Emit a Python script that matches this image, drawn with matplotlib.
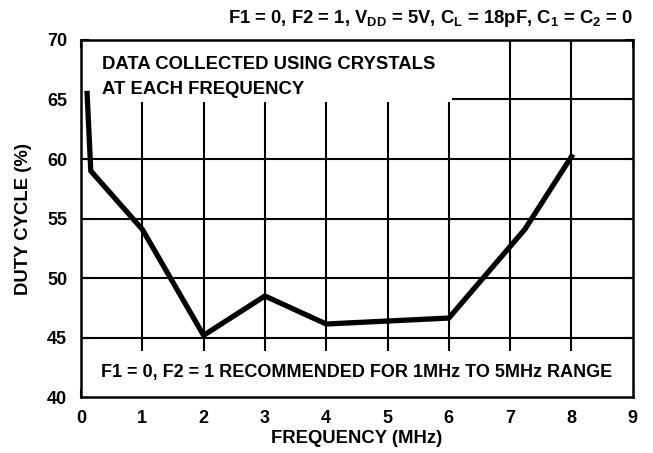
import matplotlib
matplotlib.use("Agg")
import matplotlib.pyplot as plt
from matplotlib.patches import Rectangle

plt.rcParams["font.family"] = ["Liberation Sans", "DejaVu Sans"]
plt.rcParams["font.weight"] = "bold"
plt.rcParams["mathtext.fontset"] = "custom"
plt.rcParams["mathtext.rm"] = "Liberation Sans:bold"
plt.rcParams["mathtext.bf"] = "Liberation Sans:bold"
plt.rcParams["mathtext.default"] = "rm"

# Data.
freq_mhz = [0.1, 0.16, 1.0, 2.0, 3.0, 4.0, 6.0, 7.24, 8.0]
duty_cycle = [65.5, 59.0, 54.1, 45.2, 48.5, 46.15, 46.65, 54.1, 60.2]

x_ticks = list(range(0, 10))
y_ticks = [40, 45, 50, 55, 60, 65, 70]

title = r"F1 = 0, F2 = 1, V$_{DD}$ = 5V, C$_{L}$ = 18pF, C$_{1}$ = C$_{2}$ = 0"
note_top = ["DATA COLLECTED USING CRYSTALS", "AT EACH FREQUENCY"]
note_bottom = "F1 = 0, F2 = 1 RECOMMENDED FOR 1MHz TO 5MHz RANGE"

FS = 13.3

fig = plt.figure(figsize=(6.53, 4.53), dpi=100)
ax = fig.add_axes([0.124, 0.123, 0.845, 0.789])
ax.set_xlim(0, 9)
ax.set_ylim(40, 70)

# Grid drawn by hand so the white note boxes can sit over it.
for xv in x_ticks[1:-1]:
    ax.axvline(xv, color="black", lw=1.5, zorder=1)
for yv in y_ticks[1:-1]:
    ax.axhline(yv, color="black", lw=1.5, zorder=1)

ax.add_patch(Rectangle((0, 64.8), 6.05, 5.2, facecolor="white", edgecolor="none", zorder=2))
ax.add_patch(Rectangle((0, 40), 9, 3.9, facecolor="white", edgecolor="none", zorder=2))

ax.plot(freq_mhz, duty_cycle, color="black", lw=3.8, solid_joinstyle="miter", zorder=4)

for line, yb in zip(note_top, [67.54, 65.44]):
    ax.text(0.34, yb, line, fontsize=FS, fontweight="bold", va="baseline",
            ha="left", zorder=5)
ax.text(4.49, 41.68, note_bottom, fontsize=13.0, fontweight="bold", va="baseline",
        ha="center", zorder=5)
ax.text(1.0, 1.03, title, transform=ax.transAxes, fontsize=FS, fontweight="bold",
        ha="right", va="bottom")

ax.set_xticks(x_ticks)
ax.set_yticks(y_ticks)
ax.tick_params(direction="in", length=6, width=1.5, top=True, right=True,
               labelsize=13)
ax.tick_params(axis="x", pad=9)
ax.tick_params(axis="y", pad=10)
for lab in ax.get_xticklabels() + ax.get_yticklabels():
    lab.set_fontweight("bold")
for sp in ax.spines.values():
    sp.set_linewidth(1.8)
    sp.set_zorder(6)

ax.set_xlabel("FREQUENCY (MHz)", fontsize=FS, fontweight="bold", labelpad=2)
ax.set_ylabel("DUTY CYCLE (%)", fontsize=FS, fontweight="bold", labelpad=11)

fig.savefig("out.png", dpi=100)
